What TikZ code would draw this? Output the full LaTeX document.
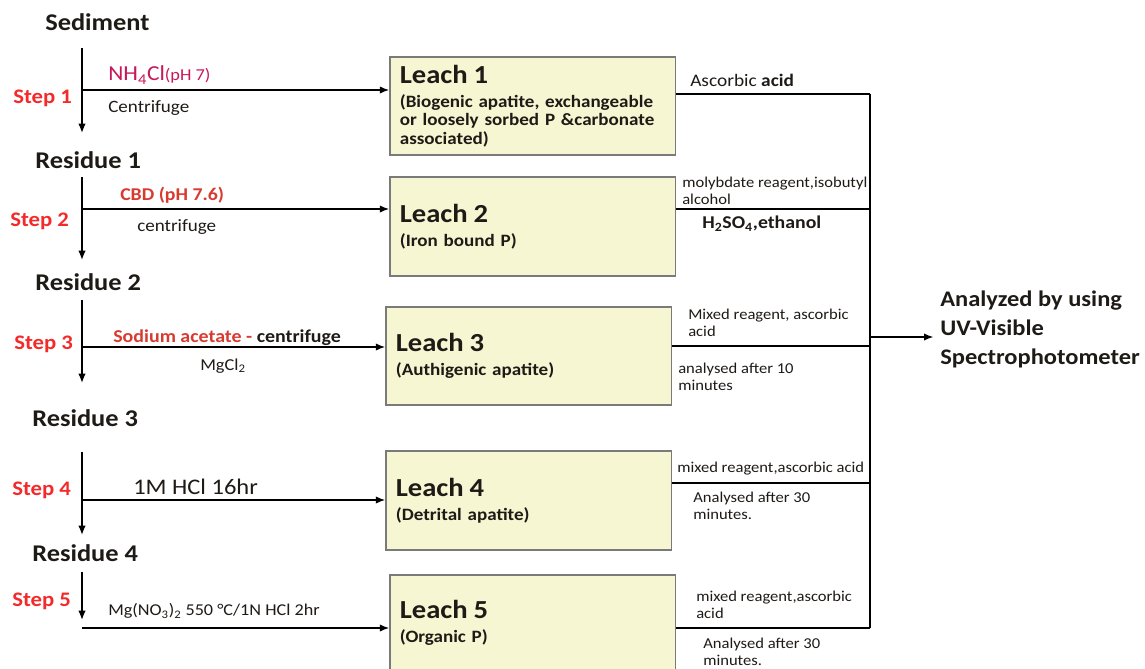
\documentclass[tikz,border=0pt]{standalone}
\usepackage{fontspec}
\setmainfont{Carlito}[FakeStretch=1.1]
\usetikzlibrary{arrows.meta}
\definecolor{stepred}{HTML}{F42A2A}
\definecolor{nhred}{HTML}{C8185A}
\definecolor{cbdred}{HTML}{D83A30}
\definecolor{txt}{HTML}{1E1A16}
\definecolor{boxfill}{HTML}{F6F6D2}
\definecolor{boxborder}{HTML}{7A7A7A}
\newcommand{\fsz}[2]{\fontsize{#1}{#2}\selectfont}
\newcommand{\leachtitle}[1]{{\fsz{19.5}{13.9}\bfseries #1}\\[4.1pt]}
\begin{document}
\begin{tikzpicture}[x=0.75pt,y=-0.75pt,
  lbl/.style={anchor=west, inner sep=0pt, text=txt, align=left},
  head/.style={lbl, font=\fsz{18}{21}\bfseries},
  steplbl/.style={anchor=west, inner sep=0pt, text=stepred, font=\fsz{15.5}{18}\bfseries},
  small/.style={lbl, font=\fsz{11.3}{13}},
  leach/.style={draw=boxborder, fill=boxfill, line width=1pt, minimum width=213.75pt,
    minimum height=73.5pt, inner xsep=7.5pt, text width=199pt, align=left, text=txt,
    font=\fsz{13}{13.9}\bfseries},
  flow/.style={line width=1pt, -{Latex[length=7pt,width=5.5pt]}},
  link/.style={line width=1pt}]
\useasboundingbox (0,0) rectangle (1145,668);
\clip (0,0) rectangle (1145,668);

% left column headings
\node[head] (sed) at (45,22) {Sediment};
\node[head] (res1) at (35,160) {Residue 1};
\node[head] (res2) at (35,282) {Residue 2};
\node[head] (res3) at (32,418) {Residue 3};
\node[head] (res4) at (32,553) {Residue 4};

\node[steplbl] (s1) at (13,98) {Step 1};
\node[steplbl] (s2) at (10,221) {Step 2};
\node[steplbl] (s3) at (14,344) {Step 3};
\node[steplbl] (s4) at (12,490) {Step 4};
\node[steplbl] (s5) at (12,601) {Step 5};

% leach boxes
\node[leach] (l1) at (532.5,106) {\leachtitle{Leach 1}(Biogenic apatite, exchangeable\\or loosely sorbed P \&carbonate\\associated)};
\node[leach, minimum height=74.25pt] (l2) at (532.5,226.5) {\leachtitle{Leach 2}(Iron bound P)};
\node[leach] (l3) at (528.5,356) {\leachtitle{Leach 3}(Authigenic apatite)};
\node[leach, minimum height=74.25pt] (l4) at (528.5,500.5) {\leachtitle{Leach 4}(Detrital apatite)};
\node[leach, minimum height=72pt] (l5) at (532.5,623) {\leachtitle{Leach 5}(Organic P)};

% reagent labels on the left
\node[lbl] (nh) at (108,75) {{\fsz{16}{18}\color{nhred}NH\textsubscript{4}Cl}{\fsz{12.5}{14}\color{nhred}(pH 7)}};
\node[lbl, font=\fsz{13}{15}] (cf1) at (108,108) {Centrifuge};
\node[lbl, font=\fsz{13.5}{15}\bfseries, text=cbdred] (cbd) at (120,195) {CBD (pH 7.6)};
\node[lbl, font=\fsz{13}{15}] (cf2) at (137,227) {centrifuge};
\node[lbl, font=\fsz{13.6}{15}\bfseries] (na) at (113,338) {{\color{cbdred}Sodium acetate -} centrifuge};
\node[lbl, font=\fsz{12.5}{14}] (mg) at (200,366) {MgCl\textsubscript{2}};
\node[lbl, font=\fsz{16.7}{19}] (hcl) at (133,487) {1M HCl 16hr};
\node[lbl, font=\fsz{12.4}{14}] (mgno) at (108,611) {Mg(NO\textsubscript{3})\textsubscript{2} 550 °C/1N HCl 2hr};

% reagent labels on the right
\node[lbl, font=\fsz{13.2}{15}] (asc) at (690,80) {Ascorbic \textbf{acid}};
\node[small] (moly) at (682,190.5) {molybdate reagent,isobutyl\\alcohol};
\node[lbl, font=\fsz{13.5}{15}\bfseries] (h2so) at (702,224) {H\textsubscript{2}SO\textsubscript{4},ethanol};
\node[small] (mix3) at (688,322.5) {Mixed reagent, ascorbic\\acid};
\node[small] (an3) at (678,377) {analysed after 10\\minutes};
\node[small] (mix4) at (677,469) {mixed reagent,ascorbic acid};
\node[small] (an4) at (693,506) {Analysed after 30\\minutes.};
\node[small] (mix5) at (696,604.5) {mixed reagent,ascorbic\\acid};
\node[small] (an5) at (703,652) {Analysed after 30\\minutes.};

\node[lbl, font=\fsz{16.7}{21.75}\bfseries] (uv) at (940,329) {Analyzed by using\\UV-Visible\\Spectrophotometer};

% vertical flow on the left
\coordinate (v1a) at (82,48);  \coordinate (v1b) at (82,133);
\coordinate (v2a) at (82,177); \coordinate (v2b) at (82,260);
\coordinate (v3a) at (82,300); \coordinate (v3b) at (82,383);
\coordinate (v4a) at (82,452); \coordinate (v4b) at (82,535);
\coordinate (v5a) at (82,572); \coordinate (v5b) at (82,620);
\draw[flow] (v1a) -- (v1b);
\draw[flow] (v2a) -- (v2b);
\draw[flow] (v3a) -- (v3b);
\draw[flow] (v4a) -- (v4b);
\draw[flow] (v5a) -- (v5b);

% horizontal arrows to the leach boxes
\coordinate (h1) at (82,90);
\coordinate (h2) at (82,209);
\coordinate (h3) at (82,347);
\coordinate (h4) at (82,500);
\coordinate (h5) at (82,628);
\draw[flow] (h1) -- (h1 -| l1.west);
\draw[flow] (h2) -- (h2 -| l2.west);
\draw[flow] (h3) -- (h3 -| l3.west);
\draw[flow] (h4) -- (h4 -| l4.west);
\draw[flow] (h5) -- (h5 -| l5.west);

% collecting lines on the right
\coordinate (r1) at (870,94);
\coordinate (r2) at (870,209);
\coordinate (r3) at (870,346);
\coordinate (r4) at (870,483);
\coordinate (r5) at (870,628);
\coordinate (ro) at (870,337);
\draw[link] (r1 -| l1.east) -- (r1);
\draw[link] (r2 -| l2.east) -- (r2);
\draw[link] (r3 -| l3.east) -- (r3);
\draw[link] (r4 -| l4.east) -- (r4);
\draw[link] (r5 -| l5.east) -- (r5);
\draw[link] (r1) -- (r5);
\draw[flow, shorten >=5pt] (ro) -- (ro -| uv.west);
\end{tikzpicture}
\end{document}
